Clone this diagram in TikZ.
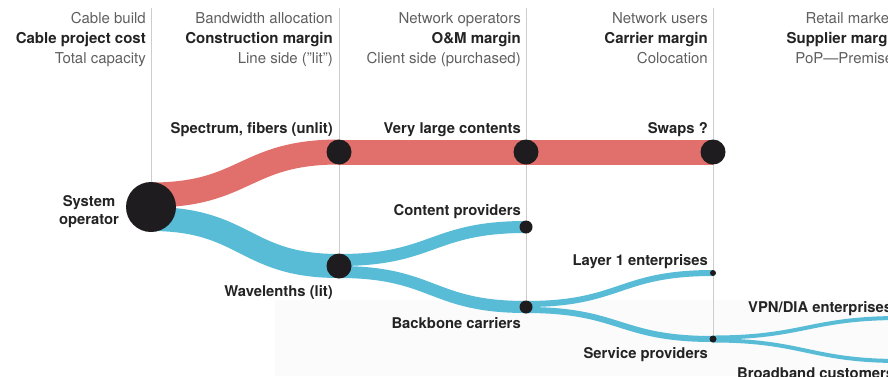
\documentclass[tikz,border=0pt]{standalone}
\usepackage{fontspec}
\setmainfont{TeX Gyre Heros}
\usetikzlibrary{backgrounds}

\definecolor{flowred}{RGB}{225,112,108}
\definecolor{flowblue}{RGB}{88,188,215}
\definecolor{hubblack}{RGB}{30,28,30}
\definecolor{tagblack}{RGB}{35,35,35}
\definecolor{headgray}{RGB}{95,95,95}
\definecolor{rulegray}{RGB}{205,205,205}

\begin{document}
\begin{tikzpicture}[x=1pt,y=-1pt,font=\fontsize{15}{20}\selectfont,
    hub/.style={circle,fill=hubblack,inner sep=0pt,minimum size=#1},
    tag/.style={font=\fontsize{14.8}{18}\selectfont\bfseries,text=tagblack,inner sep=0pt},
    head/.style={align=right,anchor=north east,inner sep=0pt,text=headgray},
    colrule/.style={draw=rulegray,line width=0.9pt},
    flow/.style={line width=#1}]
             \clip (0,0) rectangle (888,376);

             % column headings
             \node[head] (hbuild) at (146,12.5) {Cable build\\\textcolor{tagblack}{\bfseries Cable project cost}\\Total capacity};
             \node[head] (halloc) at (333,12.5) {Bandwidth allocation\\\textcolor{tagblack}{\bfseries Construction margin}\\Line side ("lit")};
             \node[head] (hoper) at (521,12.5) {Network operators\\\textcolor{tagblack}{\bfseries O\&M margin}\\Client side (purchased)};
             \node[head] (husers) at (708,12.5) {Network users\\\textcolor{tagblack}{\bfseries Carrier margin}\\Colocation};
             \node[head] (hretail) at (901,12.5) {Retail markets\\\textcolor{tagblack}{\bfseries Supplier margin}\\PoP---Premises};

             % hubs
             \node[hub=50pt] (sysop) at (151,207) {};
             \node[hub=25pt] (spectrum) at (339,152) {};
             \node[hub=25pt] (contents) at (526,152) {};
             \node[hub=25pt] (swaps) at (713,152) {};
             \node[hub=25pt] (wave) at (339,266) {};
             \node[hub=13pt] (content) at (526,227) {};
             \node[hub=13pt] (backbone) at (526,307) {};
             \node[hub=6pt] (layer) at (713,273) {};
             \node[hub=7pt] (service) at (713,339) {};
             \coordinate (vpnend) at (900,318);
             \coordinate (bbend) at (900,361);

             % labels
             \node[tag,align=center] (sysoplbl) at (89,212) {System\\operator};
             \node[tag,anchor=base east] (spectrumlbl) at (333,133) {Spectrum, fibers (unlit)};
             \node[tag,anchor=base east] (contentslbl) at (521,133) {Very large contents};
             \node[tag,anchor=base east] (swapslbl) at (708,133) {Swaps ?};
             \node[tag,anchor=base east] (contentlbl) at (521,215) {Content providers};
             \node[tag,anchor=base east] (wavelbl) at (333,296) {Wavelenths (lit)};
             \node[tag,anchor=base east] (layerlbl) at (708,265) {Layer 1 enterprises};
             \node[tag,anchor=base east] (backbonelbl) at (521,328) {Backbone carriers};
             \node[tag,anchor=base east] (servicelbl) at (708,358) {Service providers};
             \node[tag,anchor=base west] (vpnlbl) at (748,312) {VPN/DIA enterprises};
             \node[tag,anchor=base west] (bblbl) at (737,378) {Broadband customers};

             \begin{scope}[on background layer]
             \fill[black!1.5] (275,300) rectangle (888,376);

             \draw[colrule] (151,8) -- (sysop.center);
             \draw[colrule] (339,8) -- (wave.center);
             \draw[colrule] (526,8) -- (backbone.center);
             \draw[colrule] (713,8) -- (service.center);

             \draw[flow=25pt,flowred] ([yshift=12pt]sysop.center) .. controls +(95,0) and +(-95,0) .. (spectrum.center);
             \draw[flow=25pt,flowred] (spectrum.center) -- (contents.center) -- (swaps.center);
             \draw[flow=24pt,flowblue] ([yshift=-12pt]sysop.center) .. controls +(95,0) and +(-95,0) .. (wave.center);
             \draw[flow=12pt,flowblue] ([yshift=6pt]wave.center) .. controls +(95,0) and +(-95,0) .. (content.center);
             \draw[flow=12pt,flowblue] ([yshift=-6pt]wave.center) .. controls +(95,0) and +(-95,0) .. (backbone.center);
             \draw[flow=6pt,flowblue] ([yshift=3pt]backbone.center) .. controls +(95,0) and +(-95,0) .. (layer.center);
             \draw[flow=6pt,flowblue] ([yshift=-3pt]backbone.center) .. controls +(95,0) and +(-95,0) .. (service.center);
             \draw[flow=4pt,flowblue] ([yshift=1.5pt]service.center) .. controls +(90,0) and +(-90,0) .. (vpnend);
             \draw[flow=4pt,flowblue] ([yshift=-1.5pt]service.center) .. controls +(90,0) and +(-90,0) .. (bbend);
             \end{scope}

         \end{tikzpicture}
\end{document}
